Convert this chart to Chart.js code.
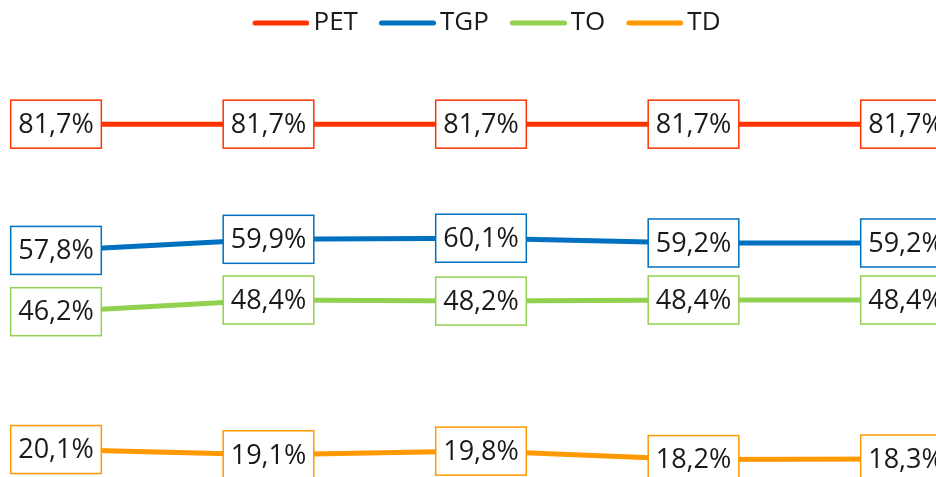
<!DOCTYPE html>
<html>
<head>
<meta charset="utf-8">
<script src="https://cdn.jsdelivr.net/npm/chart.js@4/dist/chart.umd.min.js"></script>
<style>
    html, body { margin: 0; padding: 0; background: #fff; }
    #wrap { width: 936px; height: 477px; }
</style>
</head>
<body>
<div id="wrap"><canvas id="chart"></canvas></div>
<script>
const periods = ['1', '2', '3', '4', '5'];
const petValues = [81.7, 81.7, 81.7, 81.7, 81.7];
const tgpValues = [57.8, 59.9, 60.1, 59.2, 59.2];
const toValues = [46.2, 48.4, 48.2, 48.4, 48.4];
const tdValues = [20.1, 19.1, 19.8, 18.2, 18.3];

const FONT = '"Open Sans", "Noto Sans", sans-serif';
const TEXT_COLOR = '#1a1a1a';

// legend sample: a round-capped line, drawn off-centre so the gap to the text stays small
function legendLine(color) {
    const c = document.createElement('canvas');
    c.width = 77;
    c.height = 8;
    const g = c.getContext('2d');
    g.strokeStyle = color;
    g.lineWidth = 5;
    g.lineCap = 'round';
    g.beginPath();
    g.moveTo(22.5, 4);
    g.lineTo(74.5, 4);
    g.stroke();
    return c;
}

function series(label, data, color) {
    return {
        label,
        data,
        borderColor: color,
        backgroundColor: color,
        borderWidth: 5,
        pointRadius: 0,
        pointHoverRadius: 0,
        pointStyle: legendLine(color),
        tension: 0,
        clip: false,
    };
}

const fmt = (v) => v.toFixed(1).replace('.', ',') + '%';

const boxLabels = {
    id: 'boxLabels',
    afterDatasetsDraw(chart) {
        const { ctx } = chart;
        ctx.save();
        ctx.font = '27px ' + FONT;
        ctx.textAlign = 'center';
        ctx.textBaseline = 'middle';
        chart.data.datasets.forEach((ds, i) => {
            chart.getDatasetMeta(i).data.forEach((pt, j) => {
                const txt = fmt(ds.data[j]);
                const w = ctx.measureText(txt).width + 15;
                const h = 48;
                ctx.fillStyle = '#fff';
                ctx.fillRect(pt.x - w / 2, pt.y - h / 2, w, h);
                ctx.strokeStyle = ds.borderColor;
                ctx.lineWidth = 1.5;
                ctx.strokeRect(pt.x - w / 2, pt.y - h / 2, w, h);
                ctx.fillStyle = TEXT_COLOR;
                ctx.fillText(txt, pt.x, pt.y + 1);
            });
        });
        ctx.restore();
    },
};

new Chart(document.getElementById('chart'), {
    type: 'line',
    data: {
        labels: periods,
        datasets: [
            series('PET', petValues, '#ff3300'),
            series('TGP', tgpValues, '#0070c0'),
            series('TO', toValues, '#92d050'),
            series('TD', tdValues, '#ff9900'),
        ],
    },
    options: {
        responsive: true,
        maintainAspectRatio: false,
        animation: false,
        layout: { padding: { left: 56, right: 30, top: 0, bottom: 0 } },
        plugins: {
            legend: {
                position: 'top',
                labels: {
                    usePointStyle: true,
                    pointStyleWidth: 59,
                    boxHeight: 8,
                    padding: 10,
                    color: TEXT_COLOR,
                    font: { family: FONT, size: 26 },
                },
            },
            tooltip: { enabled: false },
        },
        scales: {
            x: { display: false, offset: false },
            y: { display: false, min: 14.9, max: 96.5 },
        },
    },
    plugins: [boxLabels],
});
</script>
</body>
</html>
